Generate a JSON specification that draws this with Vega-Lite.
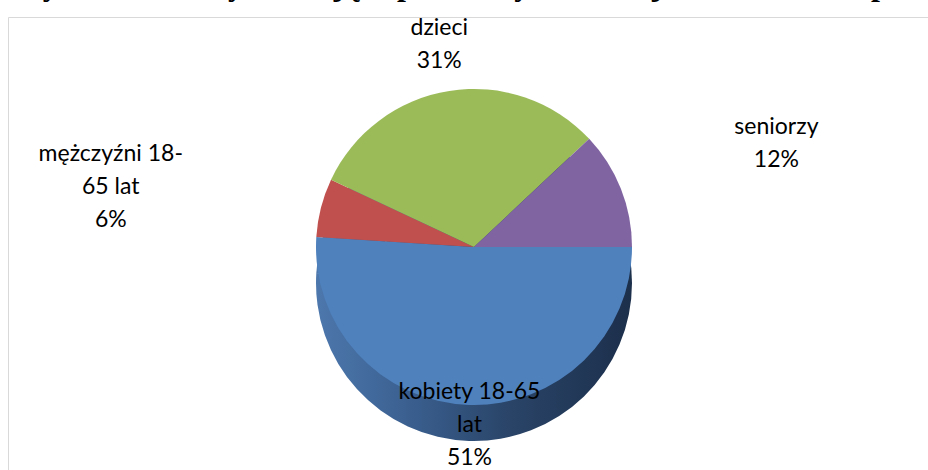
{
  "$schema": "https://vega.github.io/schema/vega-lite/v6.json",
  "width": 932,
  "height": 460,
  "autosize": {"type": "none"},
  "padding": {"left": 8, "top": 17, "right": -12, "bottom": -7},
  "background": "white",
  "view": {"stroke": "#d9d9d9", "strokeWidth": 1, "fill": "white"},
  "title": {
    "text": "Wykres 3. Osoby doznające przemocy domowej w 2016 roku – podział",
    "font": "Liberation Serif",
    "fontSize": 32,
    "fontWeight": "bold",
    "color": "black",
    "anchor": "start",
    "baseline": "alphabetic",
    "offset": 2,
    "dy": 12,
    "dx": 4
  },
  "data": {
    "values": [
      {"kategoria": "kobiety 18-65 lat", "label": "kobiety 18-65\nlat", "share": 0.51, "ord": 1},
      {"kategoria": "mężczyźni 18-65 lat", "label": "mężczyźni 18-\n65 lat", "share": 0.06, "ord": 2},
      {"kategoria": "dzieci", "label": "dzieci", "share": 0.31, "ord": 3},
      {"kategoria": "seniorzy", "label": "seniorzy", "share": 0.12, "ord": 4}
    ]
  },
  "transform": [
    {"calculate": "datum.label + '\\n' + format(datum.share, '.0%')", "as": "txt"}
  ],
  "encoding": {
    "theta": {"field": "share", "type": "quantitative", "stack": true, "scale": {"range": [1.5708, 7.854]}},
    "order": {"field": "ord", "type": "quantitative"}
  },
  "layer": [
    {
      "mark": {
        "type": "arc",
        "radius": 158,
        "yOffset": 36,
        "fill": {
          "gradient": "linear",
          "x1": 0, "y1": 0, "x2": 1, "y2": 0,
          "stops": [
            {"offset": 0, "color": "#4D78AD"},
            {"offset": 0.3, "color": "#3A5F8F"},
            {"offset": 0.6, "color": "#2A4569"},
            {"offset": 1, "color": "#1C2F4B"}
          ]
        }
      }
    },
    {
      "mark": {"type": "arc", "radius": 158},
      "encoding": {
        "color": {
          "field": "kategoria",
          "type": "nominal",
          "scale": {
            "domain": ["kobiety 18-65 lat", "mężczyźni 18-65 lat", "dzieci", "seniorzy"],
            "range": ["#4F81BD", "#C0504D", "#9BBB59", "#8064A2"]
          },
          "legend": null
        }
      }
    },
    {
      "mark": {
        "type": "text",
        "font": "Lato",
        "fontSize": 23,
        "color": "black",
        "lineBreak": "\n",
        "lineHeight": 33,
        "align": "center",
        "baseline": "middle"
      },
      "encoding": {
        "radius": {
          "field": "share",
          "type": "quantitative",
          "scale": {"type": "sqrt", "domain": [0.06, 0.51], "range": [375, 145]}
        },
        "text": {"field": "txt", "type": "nominal"}
      }
    }
  ]
}
